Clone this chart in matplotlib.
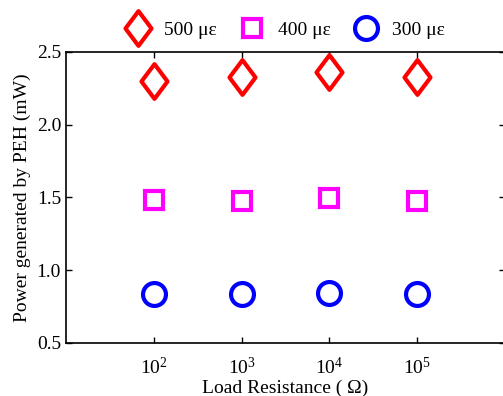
import matplotlib
matplotlib.use("Agg")
import matplotlib.pyplot as plt
from matplotlib.path import Path
from matplotlib.ticker import NullLocator

plt.rcParams["font.family"] = ["Liberation Serif", "DejaVu Serif"]
plt.rcParams["mathtext.fontset"] = "custom"
plt.rcParams["mathtext.rm"] = "Liberation Serif"
plt.rcParams["mathtext.it"] = "Liberation Serif:italic"

# data
resistance = [1e2, 1e3, 1e4, 1e5]
power_500 = [2.30, 2.33, 2.36, 2.33]
power_400 = [1.48, 1.475, 1.495, 1.475]
power_300 = [0.835, 0.835, 0.84, 0.835]
labels = ["500 \u03bc\u025b", "400 \u03bc\u025b", "300 \u03bc\u025b"]

# wide diamond like the matlab one
diamond = Path([(0, 1), (0.75, 0), (0, -1), (-0.75, 0), (0, 1)],
               [Path.MOVETO, Path.LINETO, Path.LINETO, Path.LINETO, Path.CLOSEPOLY])

fig = plt.figure(figsize=(5.03, 3.96), dpi=100)
ax = fig.add_axes([0.131, 0.134, 0.873, 0.735])

ax.plot(resistance, power_500, linestyle="none", marker=diamond, markersize=25,
        markerfacecolor="none", markeredgecolor="red", markeredgewidth=3.0, label=labels[0])
ax.plot(resistance, power_400, linestyle="none", marker="s", markersize=13.5,
        markerfacecolor="none", markeredgecolor="magenta", markeredgewidth=3.0, label=labels[1])
ax.plot(resistance, power_300, linestyle="none", marker="o", markersize=16.5,
        markerfacecolor="none", markeredgecolor="blue", markeredgewidth=3.0, label=labels[2])

ax.set_xscale("log")
ax.set_xlim(1e1, 1e6)
ax.set_ylim(0.5, 2.5)
ax.set_xticks(resistance)
ax.xaxis.set_minor_locator(NullLocator())
ax.set_yticks([0.5, 1.0, 1.5, 2.0, 2.5])
ax.set_yticklabels(["0.5", "1.0", "1.5", "2.0", "2.5"])
ax.tick_params(direction="in", length=4, width=1, top=True, right=True, labelsize=14)
ax.tick_params(axis="x", pad=10)
for s in ax.spines.values():
    s.set_linewidth(1.2)

ax.set_xlabel("Load Resistance ( \u03a9)", fontsize=14, labelpad=1)
ax.set_ylabel("Power generated by PEH (mW)", fontsize=14, labelpad=4)

ax.legend(loc="lower center", bbox_to_anchor=(0.5, 1.01), ncol=3, frameon=False,
          fontsize=14, handletextpad=0.75, columnspacing=1.2, borderaxespad=0.1,
          handlelength=1.2)

fig.savefig("out.png", dpi=100)
